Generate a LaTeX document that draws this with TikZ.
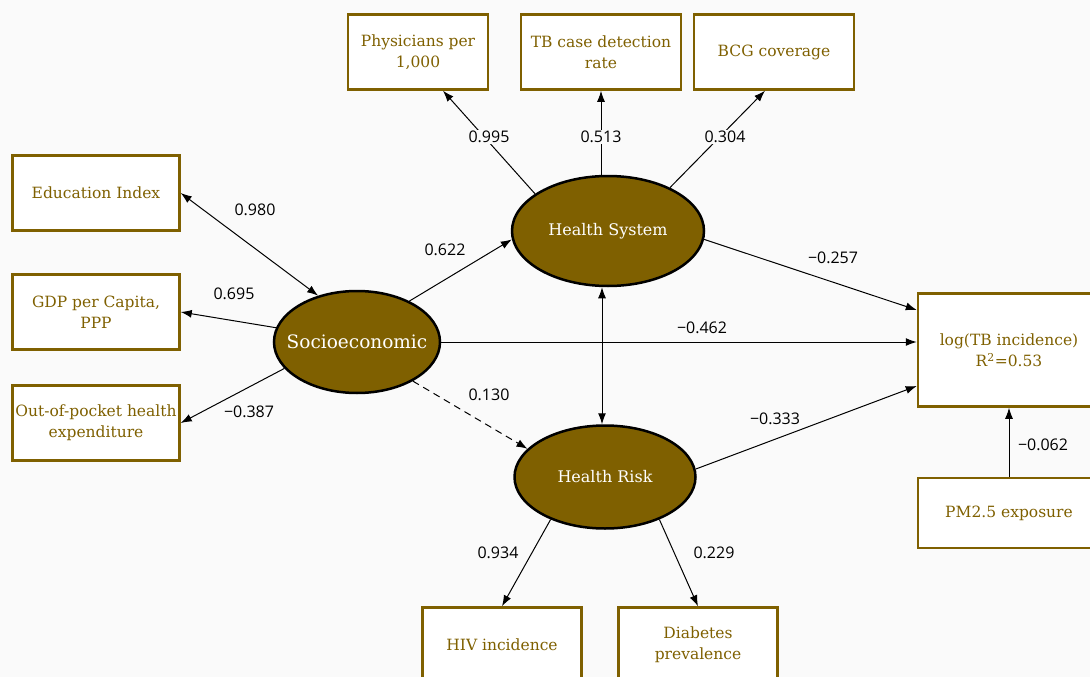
\documentclass[tikz,border=0pt]{standalone}
\usepackage{fontspec}
\setmainfont{DejaVu Serif}
\newfontfamily\coeffont{Open Sans}
\usetikzlibrary{arrows.meta, shapes.geometric, calc}
\definecolor{semgold}{RGB}{127,96,0}
\definecolor{pagebg}{RGB}{250,250,250}

\begin{document}
\begin{tikzpicture}[x=1pt, y=-1pt, >={Latex[length=11pt,width=8pt]},
  indicator/.style={draw=semgold, line width=2.5pt, fill=white, text=semgold,
    align=center, inner sep=0pt, font=\fontsize{15.5}{21}\selectfont},
  construct/.style={ellipse, draw=black, line width=2.5pt, fill=semgold,
    text=white, inner xsep=-30pt, inner ysep=0pt, font=\fontsize{16}{22}\selectfont},
  link/.style={->, line width=1pt},
  coef/.style={fill=pagebg, inner sep=1.5pt, font=\coeffont\fontsize{16}{18}\selectfont}]
  \fill[pagebg] (0, 0) rectangle (1090, 677);
  \useasboundingbox (0, 0) rectangle (1090, 677);

  % Latent constructs
  \node[construct, minimum width=166, minimum height=102,
    font=\fontsize{18.5}{26}\selectfont] (socio) at (357, 342) {Socioeconomic};
  \node[construct, minimum width=192, minimum height=110] (hs) at (608, 231) {Health System};
  \node[construct, minimum width=181, minimum height=103] (hr) at (605, 477) {Health Risk};

  % Indicators
  \node[indicator, minimum width=140, minimum height=75] (phys) at (418, 52) {Physicians per\\1,000};
  \node[indicator, minimum width=160, minimum height=75] (tbcase) at (601, 52) {TB case detection\\rate};
  \node[indicator, minimum width=160, minimum height=75] (bcg) at (774, 52) {BCG coverage};
  \node[indicator, minimum width=167, minimum height=75] (edu) at (96, 193) {Education Index};
  \node[indicator, minimum width=167, minimum height=75] (gdp) at (96, 312) {GDP per Capita,\\PPP};
  \node[indicator, minimum width=167, minimum height=75] (oop) at (96, 423) {Out-of-pocket health\\expenditure};
  \node[indicator, minimum width=182, minimum height=113] (tb) at (1009, 350) {log(TB incidence)\\R\textsuperscript{2}=0.53};
  \node[indicator, minimum width=182, minimum height=70] (pm) at (1009, 513) {PM2.5 exposure};
  \node[indicator, minimum width=159, minimum height=75] (hiv) at (502, 645) {HIV incidence};
  \node[indicator, minimum width=159, minimum height=75] (diab) at (698, 645) {Diabetes\\prevalence};

  % Paths
  \draw[link, <->] (edu.east) -- (socio.130);
  \draw[link] (socio.170) -- (gdp.east);
  \draw[link] (socio.200) -- (oop.east);
  \draw[link] (socio.38) -- (hs.185);
  \draw[link] (socio.east) -- (socio.east -| tb.west);
  \draw[link, dashed, dash pattern=on 7pt off 5pt] (socio.-35) -- (hr.160);
  \draw[link, <->] ([xshift=-6]hs.south) -- ([xshift=-6]hs.south |- hr.north);
  \draw[link] (hs.153) -- ([xshift=25]phys.south);
  \draw[link] (hs.north -| tbcase.south) -- (tbcase.south);
  \draw[link] (hs.35) -- ([xshift=-9]bcg.south);
  \draw[link] (hs.-5) -- ([yshift=40]tb.west);
  \draw[link] (hr.5) -- ([yshift=-36]tb.west);
  \draw[link] (pm.north) -- (tb.south);
  \draw[link] (hr.218) -- (hiv.north);
  \draw[link] (hr.322) -- (diab.north);

  % Coefficients
  \node[coef] (c-phys) at (489, 137) {0.995};
  \node[coef] (c-tbcase) at (601, 137) {0.513};
  \node[coef] (c-bcg) at (725, 137) {0.304};
  \node[coef] (c-edu) at (255, 210) {0.980};
  \node[coef] (c-gdp) at (234, 294) {0.695};
  \node[coef] (c-oop) at (249, 412) {−0.387};
  \node[coef] (c-hs) at (445, 250) {0.622};
  \node[coef] (c-tb) at (702, 328) {−0.462};
  \node[coef] (c-hr) at (489, 395) {0.130};
  \node[coef] (c-hstb) at (833, 258) {−0.257};
  \node[coef] (c-hrtb) at (775, 419) {−0.333};
  \node[coef] (c-pm) at (1043, 445) {−0.062};
  \node[coef] (c-hiv) at (498, 553) {0.934};
  \node[coef] (c-diab) at (714, 553) {0.229};
\end{tikzpicture}
\end{document}
